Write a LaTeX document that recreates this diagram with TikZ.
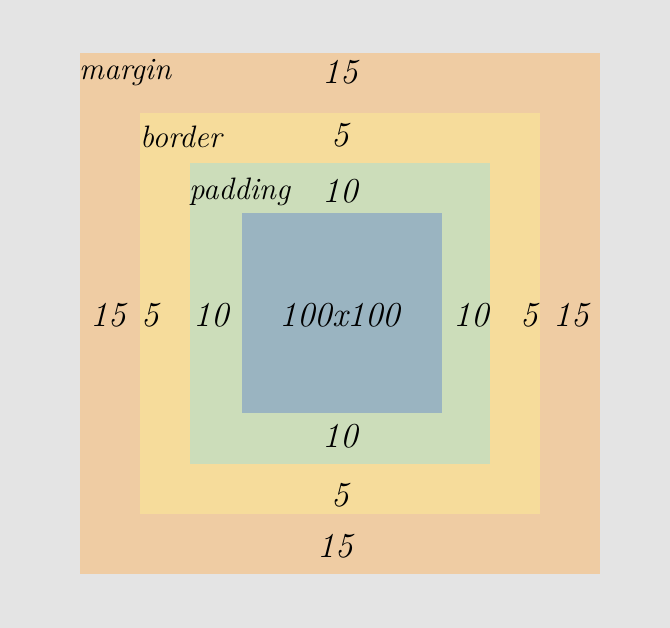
\documentclass[tikz,border=0pt]{standalone}
\usepackage{fontspec}
\begin{document}
\begin{tikzpicture}[x=1pt,y=-1pt,
  lbl/.style={font=\fontsize{31}{31}\selectfont\itshape, inner sep=0pt, text=black},
  num/.style={font=\fontsize{35}{35}\selectfont\itshape, inner sep=0pt, text=black},
  zone/.style={draw=none, inner sep=0pt, anchor=north west}]
\definecolor{bgc}{HTML}{E4E4E4}
\definecolor{marginc}{HTML}{EFCCA3}
\definecolor{borderc}{HTML}{F6DC9B}
\definecolor{paddingc}{HTML}{CCDDBA}
\definecolor{contentc}{HTML}{9AB4C1}
\fill[bgc] (0,0) rectangle (670,628);
\useasboundingbox (0,0) rectangle (670,628);
\node[zone, fill=marginc, minimum width=520pt, minimum height=521pt] (margin) at (80,53) {};
\node[zone, fill=borderc, minimum width=400pt, minimum height=401pt] (border) at (140,113) {};
\node[zone, fill=paddingc, minimum width=300pt, minimum height=301pt] (padding) at (190,163) {};
\node[zone, fill=contentc, minimum width=200pt, minimum height=200pt] (content) at (242,213) {};
\node[lbl, anchor=west] (lm) at (79,73) {margin};
\node[num] (mt) at (340,72) {15};
\node[lbl, anchor=west] (lb) at (140,137) {border};
\node[num] (bt) at (340,135) {5};
\node[lbl, anchor=west] (lp) at (189,192) {padding};
\node[num] (pt) at (340,191) {10};
\node[num] (ml) at (108,315) {15};
\node[num] (bl) at (150,315) {5};
\node[num] (pl) at (211,315) {10};
\node[num] (cc) at (340,315) {100x100};
\node[num] (pr) at (471,315) {10};
\node[num] (br) at (529,315) {5};
\node[num] (mr) at (571,315) {15};
\node[num] (pb) at (340,436) {10};
\node[num] (bb) at (340,495) {5};
\node[num] (mb) at (335,546) {15};
\end{tikzpicture}
\end{document}
